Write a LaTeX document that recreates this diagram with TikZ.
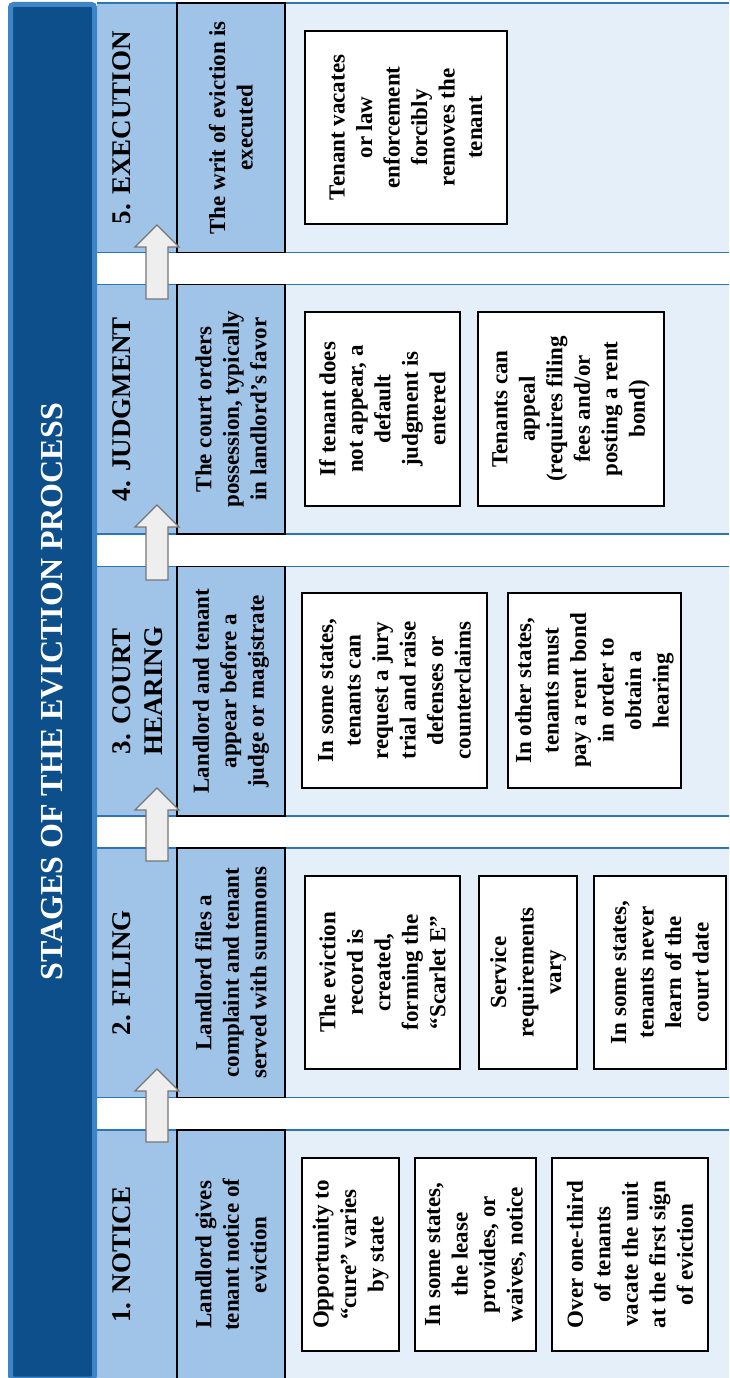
\documentclass[tikz,border=0pt]{standalone}
\usepackage{fontspec}
\setmainfont{Liberation Serif}
\definecolor{titleblue}{RGB}{13, 79, 139}
\definecolor{titleedge}{RGB}{61, 133, 198}
\definecolor{bandblue}{RGB}{159, 196, 231}
\definecolor{paleblue}{RGB}{229, 239, 249}
\definecolor{lineblue}{RGB}{46, 117, 182}
\definecolor{arrowgray}{RGB}{118, 118, 118}
\definecolor{arrowfill}{RGB}{238, 238, 238}
\usepackage{tikz}

\begin{document}
\begin{tikzpicture}[x=1pt, y=-1pt,
  stagelabel/.style={rotate=90, anchor=north, inner sep=0pt, align=center, font=\fontsize{27}{32}\selectfont\bfseries},
  stagebox/.style={draw=black, line width=1.3pt, fill=bandblue, rotate=90, align=center, minimum width=249.5pt, minimum height=108pt, inner sep=2pt, font=\fontsize{23}{27.5}\selectfont\bfseries},
  notebox/.style={draw=black, line width=1.3pt, fill=white, rotate=90, align=center, inner sep=0pt, font=\fontsize{23}{27.5}\selectfont\bfseries},
  stagearrow/.style={draw=arrowgray, fill=arrowfill, line width=1.2pt, line join=miter}]
  \useasboundingbox (0,0) rectangle (729,1378);
  \clip (0,0) rectangle (729,1378);
  \fill[white] (0,0) rectangle (729,1378);

  % Section bands
  \foreach \top in {3, 284.5, 566.5, 848, 1130} {
    \fill[bandblue] (97,\top) rectangle (177,\top+249.5);
    \fill[paleblue] (285,\top) rectangle (729,\top+249.5);
    \draw[lineblue, line width=1.5pt] (97,\top) -- (729,\top) (97,\top+249.5) -- (729,\top+249.5);
  }

  % Title bar
  \node[draw=titleedge, line width=5pt, fill=titleblue, rounded corners=3pt, rotate=90, minimum width=1374.5pt, minimum height=84pt, text=white, font=\fontsize{32}{36}\selectfont\bfseries] (title) at (52.5, 691.75) {STAGES OF THE EVICTION PROCESS};

  % 5. Execution
  \node[stagelabel] (lab5) at (112, 127.75) {5. EXECUTION};
  \node[stagebox] (stage5) at (231, 127.75) {The writ of eviction is\\executed};
  \node[notebox, minimum width=193pt, minimum height=202pt] (removal) at (406, 127.5) {Tenant vacates\\or law\\enforcement\\forcibly\\removes the\\tenant};

  % 4. Judgment
  \node[stagelabel] (lab4) at (112, 409.25) {4. JUDGMENT};
  \node[stagebox] (stage4) at (231, 409.25) {The court orders\\possession, typically\\in landlord's favor};
  \node[notebox, minimum width=194pt, minimum height=155pt] (default) at (382.5, 409) {If tenant does\\not appear, a\\default\\judgment is\\entered};
  \node[notebox, minimum width=194pt, minimum height=186pt] (appeal) at (571, 409) {Tenants can\\appeal\\(requires filing\\fees and/or\\posting a rent\\bond)};

  % 3. Court hearing
  \node[stagelabel] (lab3) at (112, 691.25) {3. COURT\\HEARING};
  \node[stagebox] (stage3) at (231, 691.25) {Landlord and tenant\\appear before a\\judge or magistrate};
  \node[notebox, minimum width=195pt, minimum height=185pt] (jury) at (394.5, 690.5) {In some states,\\tenants can\\request a jury\\trial and raise\\defenses or\\counterclaims};
  \node[notebox, minimum width=195pt, minimum height=173pt] (bond) at (594.5, 690.5) {In other states,\\tenants must\\pay a rent bond\\in order to\\obtain a\\hearing};

  % 2. Filing
  \node[stagelabel] (lab2) at (112, 972.75) {2. FILING};
  \node[stagebox] (stage2) at (231, 972.75) {Landlord files a\\complaint and tenant\\served with summons};
  \node[notebox, minimum width=193pt, minimum height=155pt] (record) at (382.5, 972.5) {The eviction\\record is\\created,\\forming the\\``Scarlet E''};
  \node[notebox, minimum width=193pt, minimum height=98pt] (service) at (528, 972.5) {Service\\requirements\\vary};
  \node[notebox, minimum width=193pt, minimum height=132pt] (courtdate) at (660, 972.5) {In some states,\\tenants never\\learn of the\\court date};

  % 1. Notice
  \node[stagelabel] (lab1) at (112, 1254.75) {1. NOTICE};
  \node[stagebox] (stage1) at (231, 1254.75) {Landlord gives\\tenant notice of\\eviction};
  \node[notebox, minimum width=193pt, minimum height=97pt] (cure) at (350.5, 1254.5) {Opportunity to\\``cure'' varies\\by state};
  \node[notebox, minimum width=193pt, minimum height=121pt] (lease) at (475.5, 1254.5) {In some states,\\the lease\\provides, or\\waives, notice};
  \node[notebox, minimum width=193pt, minimum height=156pt] (vacate) at (630, 1254.5) {Over one-third\\of tenants\\vacate the unit\\at the first sign\\of eviction};

  % Block arrows between stages
  \foreach \tip/\tail in {1069/1142, 788/861, 505/580, 225/299} {
    \draw[stagearrow] (146,\tail) -- (146,\tip+22) -- (135,\tip+22) -- (157,\tip) -- (179,\tip+22) -- (168,\tip+22) -- (168,\tail) -- cycle;
  }
\end{tikzpicture}
\end{document}
